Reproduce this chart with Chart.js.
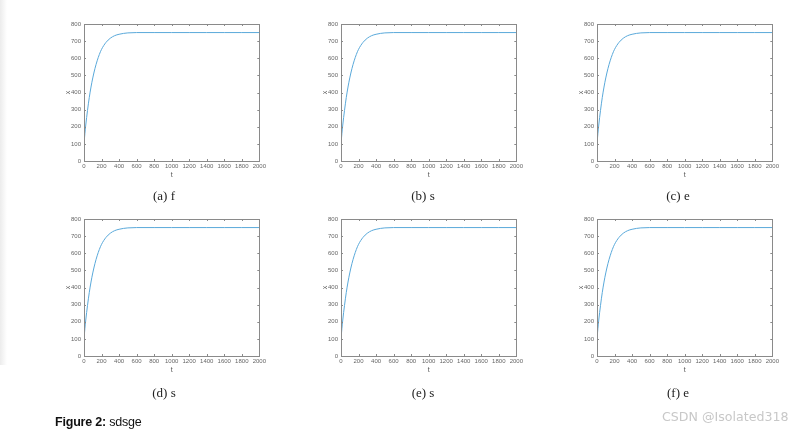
<!DOCTYPE html>
<html><head><meta charset="utf-8">
<script src="https://cdn.jsdelivr.net/npm/chart.js@4/dist/chart.umd.min.js"></script>
<style>
html,body{margin:0;padding:0;background:#fff;width:811px;height:435px;overflow:hidden;position:relative;}
.strip{position:absolute;left:0;top:0;width:7px;height:365px;background:linear-gradient(to right,#ececec,#fff);}
.pane{position:absolute;}
.cap{position:absolute;font-family:"Liberation Serif",serif;font-size:13px;color:#222;transform:translate(-50%,-50%);white-space:nowrap;}
.fig{position:absolute;left:55px;top:415px;font-family:"Liberation Sans",sans-serif;font-size:12.5px;color:#111;letter-spacing:-0.2px;}
.fig b{font-weight:bold;}
.wm{position:absolute;left:662px;top:409px;font-family:"DejaVu Sans",sans-serif;font-size:12.6px;color:#c8c8c8;}
</style></head>
<body>
<div class="strip"></div>
<div id="root"></div>
<div class="fig"><b>Figure 2:</b> sdsge</div>
<div class="wm">CSDN @Isolated318</div>
<script>
// ---- data ----
const timeValues = [0, 10, 20, 40, 60, 80, 100, 125, 150, 175, 200, 250, 300, 350, 400, 450, 500, 600, 800, 1000, 1200, 1400, 1600, 1800, 2000];
const xValues    = [100, 160, 210, 295, 370, 432, 485, 540, 585, 622, 652, 692, 717, 732, 740, 745, 748, 750, 750, 750, 750, 750, 750, 750, 750];
const panelCaptions = ["(a) f", "(b) s", "(c) e", "(d) s", "(e) s", "(f) e"];
const xTickValues = [0, 200, 400, 600, 800, 1000, 1200, 1400, 1600, 1800, 2000];
const yTickValues = [0, 100, 200, 300, 400, 500, 600, 700, 800];
const xAxisLabel = "t";
const yAxisLabel = "x";

// ---- layout ----
const plotLefts = [84, 341, 597];
const plotTops = [24, 219];
const plotW = 176, plotH = 137;
const capX = [164, 423, 678];
const capY = [196, 393];
const LEFT = 40, RIGHT = 8, TOP = 8, BOTTOM = 30;

const boxTicks = {
  id: 'boxTicks',
  afterDraw(chart) {
    const {ctx, chartArea: a, scales: {x, y}} = chart;
    ctx.save();
    ctx.strokeStyle = '#8a8a8a';
    ctx.lineWidth = 1;
    ctx.strokeRect(Math.round(a.left) + 0.5, Math.round(a.top) + 0.5, Math.round(a.right - a.left), Math.round(a.bottom - a.top));
    const L = 2;
    ctx.beginPath();
    xTickValues.forEach(v => {
      const px = Math.round(x.getPixelForValue(v)) + 0.5;
      ctx.moveTo(px, a.bottom); ctx.lineTo(px, a.bottom - L);
      ctx.moveTo(px, a.top); ctx.lineTo(px, a.top + L);
    });
    yTickValues.forEach(v => {
      const py = Math.round(y.getPixelForValue(v)) + 0.5;
      ctx.moveTo(a.left, py); ctx.lineTo(a.left + L, py);
      ctx.moveTo(a.right, py); ctx.lineTo(a.right - L, py);
    });
    ctx.stroke();
    ctx.restore();
  }
};

const root = document.getElementById('root');
panelCaptions.forEach((cap, i) => {
  const col = i % 3, row = Math.floor(i / 3);
  const W = plotW + LEFT + RIGHT, H = plotH + TOP + BOTTOM;
  const div = document.createElement('div');
  div.className = 'pane';
  div.style.left = (plotLefts[col] - LEFT) + 'px';
  div.style.top = (plotTops[row] - TOP) + 'px';
  div.style.width = W + 'px';
  div.style.height = H + 'px';
  const cv = document.createElement('canvas');
  cv.width = W; cv.height = H;
  cv.style.width = W + 'px'; cv.style.height = H + 'px';
  div.appendChild(cv);
  root.appendChild(div);

  const c = document.createElement('div');
  c.className = 'cap';
  c.style.left = capX[col] + 'px';
  c.style.top = capY[row] + 'px';
  c.textContent = cap;
  root.appendChild(c);

  const tickFont = {family: '"Liberation Sans", sans-serif', size: 6};
  new Chart(cv, {
    type: 'line',
    data: {
      datasets: [{
        data: timeValues.map((t, k) => ({x: t, y: xValues[k]})),
        borderColor: '#5aa9da',
        borderWidth: 1,
        pointRadius: 0,
        fill: false,
        cubicInterpolationMode: 'monotone'
      }]
    },
    options: {
      responsive: false,
      animation: false,
      devicePixelRatio: 1,
      layout: {padding: {left: 0, right: RIGHT, top: TOP, bottom: 0}},
      plugins: {legend: {display: false}, tooltip: {enabled: false}},
      scales: {
        x: {
          type: 'linear', min: 0, max: 2000,
          afterBuildTicks: s => { s.ticks = xTickValues.map(v => ({value: v})); },
          afterFit: s => { s.height = BOTTOM; },
          grid: {display: false, drawTicks: false},
          border: {display: false},
          ticks: {font: tickFont, color: '#666', padding: 2, maxRotation: 0, autoSkip: false, callback: v => String(v)},
          title: {display: true, text: xAxisLabel, font: {family: '"Liberation Sans", sans-serif', size: 7}, color: '#555', padding: {top: 0, bottom: 12}}
        },
        y: {
          type: 'linear', min: 0, max: 800,
          afterBuildTicks: s => { s.ticks = yTickValues.map(v => ({value: v})); },
          afterFit: s => { s.width = LEFT; },
          grid: {display: false, drawTicks: false},
          border: {display: false},
          ticks: {font: tickFont, color: '#666', padding: 3, autoSkip: false, callback: v => String(v)},
          title: {display: true, text: yAxisLabel, font: {family: '"Liberation Sans", sans-serif', size: 7}, color: '#555', padding: {top: 20, bottom: 0}}
        }
      }
    },
    plugins: [boxTicks]
  });
});
</script>
</body></html>
